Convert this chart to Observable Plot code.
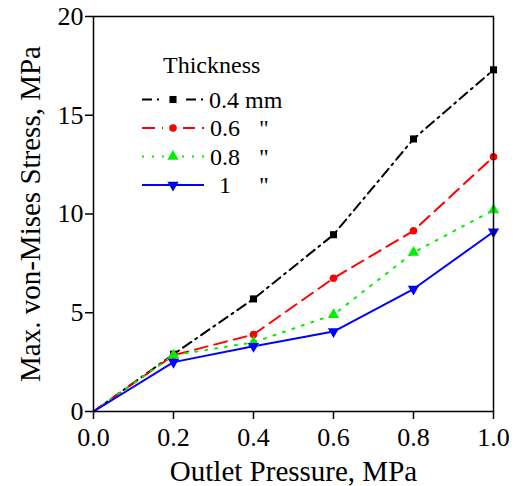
<!DOCTYPE html>
<html>
<head>
<meta charset="utf-8">
<script src="https://cdn.jsdelivr.net/npm/d3@7"></script>
<script src="https://cdn.jsdelivr.net/npm/@observablehq/plot@0.6"></script>
<style>
  html, body { margin: 0; padding: 0; background: #fff; }
  #chart { position: relative; width: 518px; height: 486px; }
</style>
</head>
<body>
<div id="chart"></div>
<script>
const pressure = [0, 0.2, 0.4, 0.6, 0.8, 1.0];
const stress04 = [0, 2.9, 5.7, 8.95, 13.8, 17.3];
const stress06 = [0, 2.85, 3.9, 6.75, 9.15, 12.9];
const stress08 = [0, 2.85, 3.5, 4.9, 8.05, 10.2];
const stress10 = [0, 2.5, 3.3, 4.05, 6.2, 9.1];
const seriesNames = ["0.4 mm", "0.6", "0.8", "1"];
const xTicks = [0, 0.2, 0.4, 0.6, 0.8, 1.0];
const yTicks = [0, 5, 10, 15, 20];
const legendTitle = "Thickness";
const xLabel = "Outlet Pressure, MPa";
const yLabel = "Max. von-Mises Stress, MPa";
const FONT = "'Liberation Serif', serif";

const triangleDown = {
  draw(context, size) {
    const y = -Math.sqrt(size / (3 * Math.sqrt(3)));
    const s = Math.sqrt(3);
    context.moveTo(0, -y * 2);
    context.lineTo(-s * y, y);
    context.lineTo(s * y, y);
    context.closePath();
  }
};

const styles = [
  {color: "#000000", dash: "10,5,2,5", symbol: "square", r: 4, gap: 18},
  {color: "#ff0000", dash: "13,7", symbol: "circle", r: 3.8, gap: 20},
  {color: "#00f000", dash: "2,8", symbol: "triangle", r: 4.2, gap: 16},
  {color: "#0000ff", dash: null, symbol: triangleDown, r: 4.2, gap: 0}
];
const allValues = [stress04, stress06, stress08, stress10];
const rows = allValues.map((vals, i) => pressure.map((p, j) => ({p, v: vals[j], s: i})));

const marks = [];
rows.forEach((data, i) => {
  const st = styles[i];
  marks.push(Plot.line(data, {x: "p", y: "v", stroke: st.color, strokeWidth: 2, strokeDasharray: st.dash || undefined}));
});
rows.forEach((data, i) => {
  const st = styles[i];
  marks.push(Plot.dot(data.slice(1), {x: "p", y: "v", fill: st.color, stroke: "none", symbol: st.symbol, r: st.r}));
});

const plot = Plot.plot({
  width: 518,
  height: 486,
  marginLeft: 93,
  marginRight: 25,
  marginTop: 16,
  marginBottom: 75,
  style: {fontFamily: FONT, fontSize: "26px", color: "#000", background: "#fff"},
  x: {domain: [0, 1], ticks: xTicks, tickFormat: d3.format(".1f"), label: null},
  y: {domain: [0, 20], ticks: yTicks, label: null},
  marks: [
    Plot.axisX({ticks: xTicks, tickFormat: d3.format(".1f"), tickSize: 8, tickPadding: 8, label: null, strokeWidth: 1.5, fontFamily: FONT}),
    Plot.axisY({ticks: yTicks, tickSize: 8, tickPadding: 2, label: null, strokeWidth: 1.5, fontFamily: FONT}),
    ...marks,
    Plot.frame({stroke: "#000", strokeWidth: 1.5}),
    Plot.text([xLabel], {frameAnchor: "bottom", dy: 60, lineAnchor: "middle", textAnchor: "middle", fontSize: 29, fontFamily: FONT, text: d => d}),
    Plot.text([yLabel], {frameAnchor: "left", dx: -63, rotate: -90, lineAnchor: "middle", textAnchor: "middle", fontSize: 29, fontFamily: FONT, text: d => d})
  ]
});
document.getElementById("chart").appendChild(plot);

// Legend
const svg = d3.select(plot);
const lg = svg.append("g").attr("text-anchor", "start");
lg.append("text").attr("x", 163).attr("y", 65).attr("dy", "0.35em").attr("text-anchor", "start").text(legendTitle);
seriesNames.forEach((name, i) => {
  const st = styles[i];
  const y = 99.5 + i * 28.5;
  lg.append("line").attr("x1", 142).attr("x2", 204).attr("y1", y).attr("y2", y)
    .attr("stroke", st.color).attr("stroke-width", 2).attr("stroke-dasharray", st.dash || null);
  const sym = typeof st.symbol === "string" ? {square: d3.symbolSquare, circle: d3.symbolCircle, triangle: d3.symbolTriangle}[st.symbol] : st.symbol;
  if (st.gap) lg.append("rect").attr("x", 173 - st.gap / 2).attr("y", y - 6).attr("width", st.gap).attr("height", 12).attr("fill", "#fff");
  lg.append("path").attr("transform", `translate(173,${y})`)
    .attr("d", d3.symbol(sym, Math.PI * st.r * st.r)()).attr("fill", st.color);
  if (i === 0) {
    lg.append("text").attr("x", 209).attr("y", y).attr("dy", "0.35em").attr("text-anchor", "start").text(name);
  } else {
    lg.append("text").attr("x", 225).attr("y", y).attr("dy", "0.35em").attr("text-anchor", "middle").text(name);
    lg.append("text").attr("x", 264).attr("y", y).attr("dy", "0.35em").attr("text-anchor", "middle").text('"');
  }
});
lg.selectAll("text").style("font-size", "24px");
svg.selectAll("text").style("font-family", FONT);
</script>
</body>
</html>
